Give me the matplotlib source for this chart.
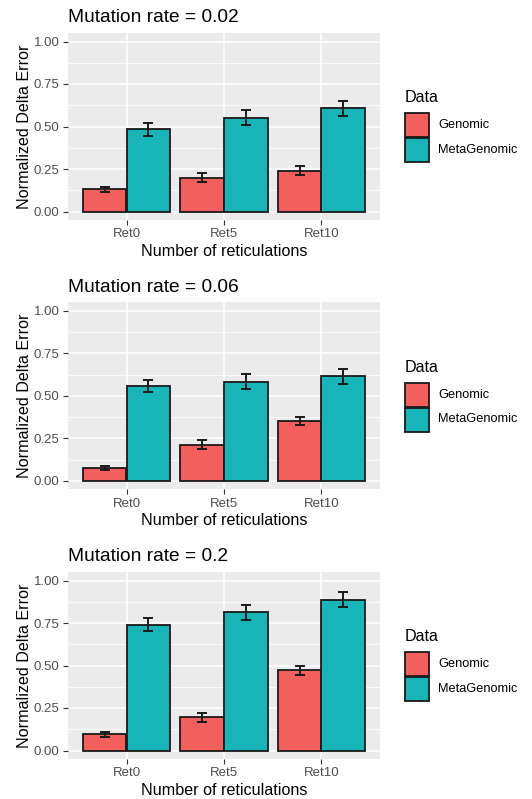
import numpy as np
import matplotlib
matplotlib.use('Agg')
from matplotlib import pyplot as plt
from matplotlib.patches import Rectangle

plt.rcParams['font.family'] = ['Liberation Sans', 'DejaVu Sans']

categories = ['Ret0', 'Ret5', 'Ret10']
groups = ['Genomic', 'MetaGenomic']
titles = ['Mutation rate = 0.02', 'Mutation rate = 0.06', 'Mutation rate = 0.2']

genomic = [[0.130, 0.199, 0.240],
           [0.077, 0.213, 0.352],
           [0.096, 0.195, 0.472]]
genomic_err = [[0.016, 0.026, 0.026],
               [0.014, 0.026, 0.025],
               [0.014, 0.025, 0.026]]
meta = [[0.484, 0.551, 0.608],
        [0.561, 0.583, 0.616],
        [0.740, 0.813, 0.888]]
meta_err = [[0.037, 0.044, 0.044],
            [0.035, 0.044, 0.043],
            [0.037, 0.044, 0.044]]

colors = ['#F25F5C', '#18B4B7']
edge = '#1a1a1a'

W, H = 532, 799
fig = plt.figure(figsize=(W / 100, H / 100), dpi=100)


def fx(px):
    return px / W


def fy(py):
    # pixel from top -> figure fraction
    return 1 - py / H


# panel tops in pixels
tops = [33, 302.5, 572]
left, right, ph = 68, 380, 187

for i in range(3):
    top = tops[i]
    ax = fig.add_axes([fx(left), fy(top + ph), fx(right - left), ph / H])
    ax.set_facecolor('#EBEBEB')
    for s in ax.spines.values():
        s.set_visible(False)

    x = np.arange(1, 4)
    bw = 0.45
    for vals, errs, off, c in [(genomic[i], genomic_err[i], -bw / 2, colors[0]),
                               (meta[i], meta_err[i], bw / 2, colors[1])]:
        ax.bar(x + off, vals, width=bw, color=c, edgecolor=edge, linewidth=1.3, zorder=3)
        ax.errorbar(x + off, vals, yerr=errs, fmt='none', ecolor=edge,
                    elinewidth=1.4, capsize=3.6, capthick=1.4, zorder=4)

    ax.set_xlim(0.4, 3.6)
    ax.set_ylim(-0.05, 1.05)
    ax.set_xticks(x)
    ax.set_xticklabels(categories)
    ax.set_yticks([0, 0.25, 0.5, 0.75, 1.0])
    ax.set_yticklabels(['0.00', '0.25', '0.50', '0.75', '1.00'])
    ax.set_yticks([0.125, 0.375, 0.625, 0.875], minor=True)
    ax.grid(True, which='major', color='white', linewidth=1.1, zorder=0)
    ax.grid(True, which='minor', axis='y', color='white', linewidth=0.55, zorder=0)
    ax.set_axisbelow(True)
    ax.tick_params(which='major', length=3.8, width=0.8, color='#333333',
                   labelcolor='#4D4D4D', labelsize=9.5, pad=2.2)
    ax.tick_params(which='minor', length=0)

    ax.set_xlabel('Number of reticulations', fontsize=11.6, color='black', labelpad=2.5)
    ax.set_ylabel('Normalized Delta Error', fontsize=11.6, color='black', labelpad=1.5)

    fig.text(fx(left), fy(top - 11), titles[i], fontsize=13.8,
             ha='left', va='baseline')

    # legend
    fig.text(fx(405), fy(top + 69), 'Data', fontsize=11.6, ha='left', va='baseline')
    for k in range(2):
        ky = top + 80 + 25 * k
        fig.add_artist(Rectangle((fx(405), fy(ky + 24)), fx(24), 24 / H,
                                 transform=fig.transFigure, facecolor=colors[k],
                                 edgecolor=edge, linewidth=1.3))
        fig.text(fx(438), fy(ky + 12), groups[k], fontsize=9.2,
                 ha='left', va='center', color='black')

fig.savefig('out.png', dpi=100)
